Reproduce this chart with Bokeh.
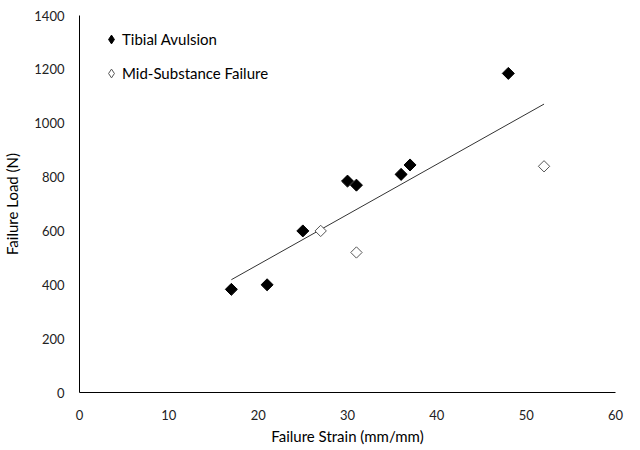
import numpy as np
from bokeh.plotting import figure
from bokeh.models import Range1d, FixedTicker, Legend, LegendItem, ColumnDataSource
from bokeh.embed import file_html
from bokeh.resources import INLINE

# Data
tibial_strain = [17, 21, 25, 30, 31, 36, 37, 48]
tibial_load = [383, 400, 600, 785, 770, 810, 845, 1185]
mid_strain = [27, 31, 52]
mid_load = [600, 520, 840]

x_ticks = [0, 10, 20, 30, 40, 50, 60]
y_ticks = [0, 200, 400, 600, 800, 1000, 1200, 1400]

FONT = "Lato"

p = figure(width=640, height=450, output_backend="svg", toolbar_location=None,
           x_range=Range1d(0, 60), y_range=Range1d(0, 1400),
           min_border_left=79, min_border_right=25, min_border_top=15, min_border_bottom=58)
p.outline_line_color = None
p.xgrid.grid_line_color = None
p.ygrid.grid_line_color = None
p.background_fill_color = "white"

# Linear trendline over all points
all_x = np.array(tibial_strain + mid_strain, dtype=float)
all_y = np.array(tibial_load + mid_load, dtype=float)
slope, intercept = np.polyfit(all_x, all_y, 1)
lx = np.array([all_x.min(), all_x.max()])
p.line(lx, slope * lx + intercept, line_color="#333333", line_width=1)

p.scatter(tibial_strain, tibial_load, marker="square", angle=np.pi / 4, size=8.5,
          fill_color="black", line_color="black", line_width=1)
p.scatter(mid_strain, mid_load, marker="square", angle=np.pi / 4, size=8,
          fill_color="white", line_color="#555555", line_width=1)

# legend-only renderers (no visible data)
dummy = ColumnDataSource(data=dict(x=[np.nan], y=[np.nan]))
l1 = p.scatter("x", "y", source=dummy, marker="diamond", size=11,
               fill_color="black", line_color="black")
l2 = p.scatter("x", "y", source=dummy, marker="diamond", size=10.5,
               fill_color="white", line_color="#555555")

legend = Legend(items=[LegendItem(label="Tibial Avulsion", renderers=[l1], index=0),
                       LegendItem(label="Mid-Substance Failure", renderers=[l2], index=0)],
                location=(21, 308))
legend.border_line_color = None
legend.background_fill_alpha = 0
legend.padding = 0
legend.margin = 0
legend.glyph_width = 22
legend.glyph_height = 22
legend.label_height = 22
legend.spacing = 12
legend.label_standoff = -2
legend.label_text_font = FONT
legend.label_text_font_size = "15px"
legend.label_text_color = "black"
p.add_layout(legend)

for ax in (p.xaxis[0], p.yaxis[0]):
    ax.major_tick_line_color = None
    ax.minor_tick_line_color = None
    ax.major_tick_out = 0
    ax.major_tick_in = 0
    ax.minor_tick_out = 0
    ax.minor_tick_in = 0
    ax.axis_line_color = "black"
    ax.axis_line_width = 1
    ax.major_label_text_font = FONT
    ax.major_label_text_font_size = "13px"
    ax.major_label_text_color = "#222222"
    ax.axis_label_text_font = FONT
    ax.axis_label_text_font_size = "15px"
    ax.axis_label_text_font_style = "normal"
    ax.axis_label_text_color = "black"

p.xaxis.ticker = FixedTicker(ticks=x_ticks)
p.yaxis.ticker = FixedTicker(ticks=y_ticks)
p.xaxis.axis_label = "Failure Strain (mm/mm)"
p.yaxis.axis_label = "Failure Load (N)"
p.xaxis.major_label_standoff = 17
p.yaxis.major_label_standoff = 15
p.xaxis.axis_label_standoff = 4
p.yaxis.axis_label_standoff = 10

open("out.html", "w").write(file_html(p, INLINE))
